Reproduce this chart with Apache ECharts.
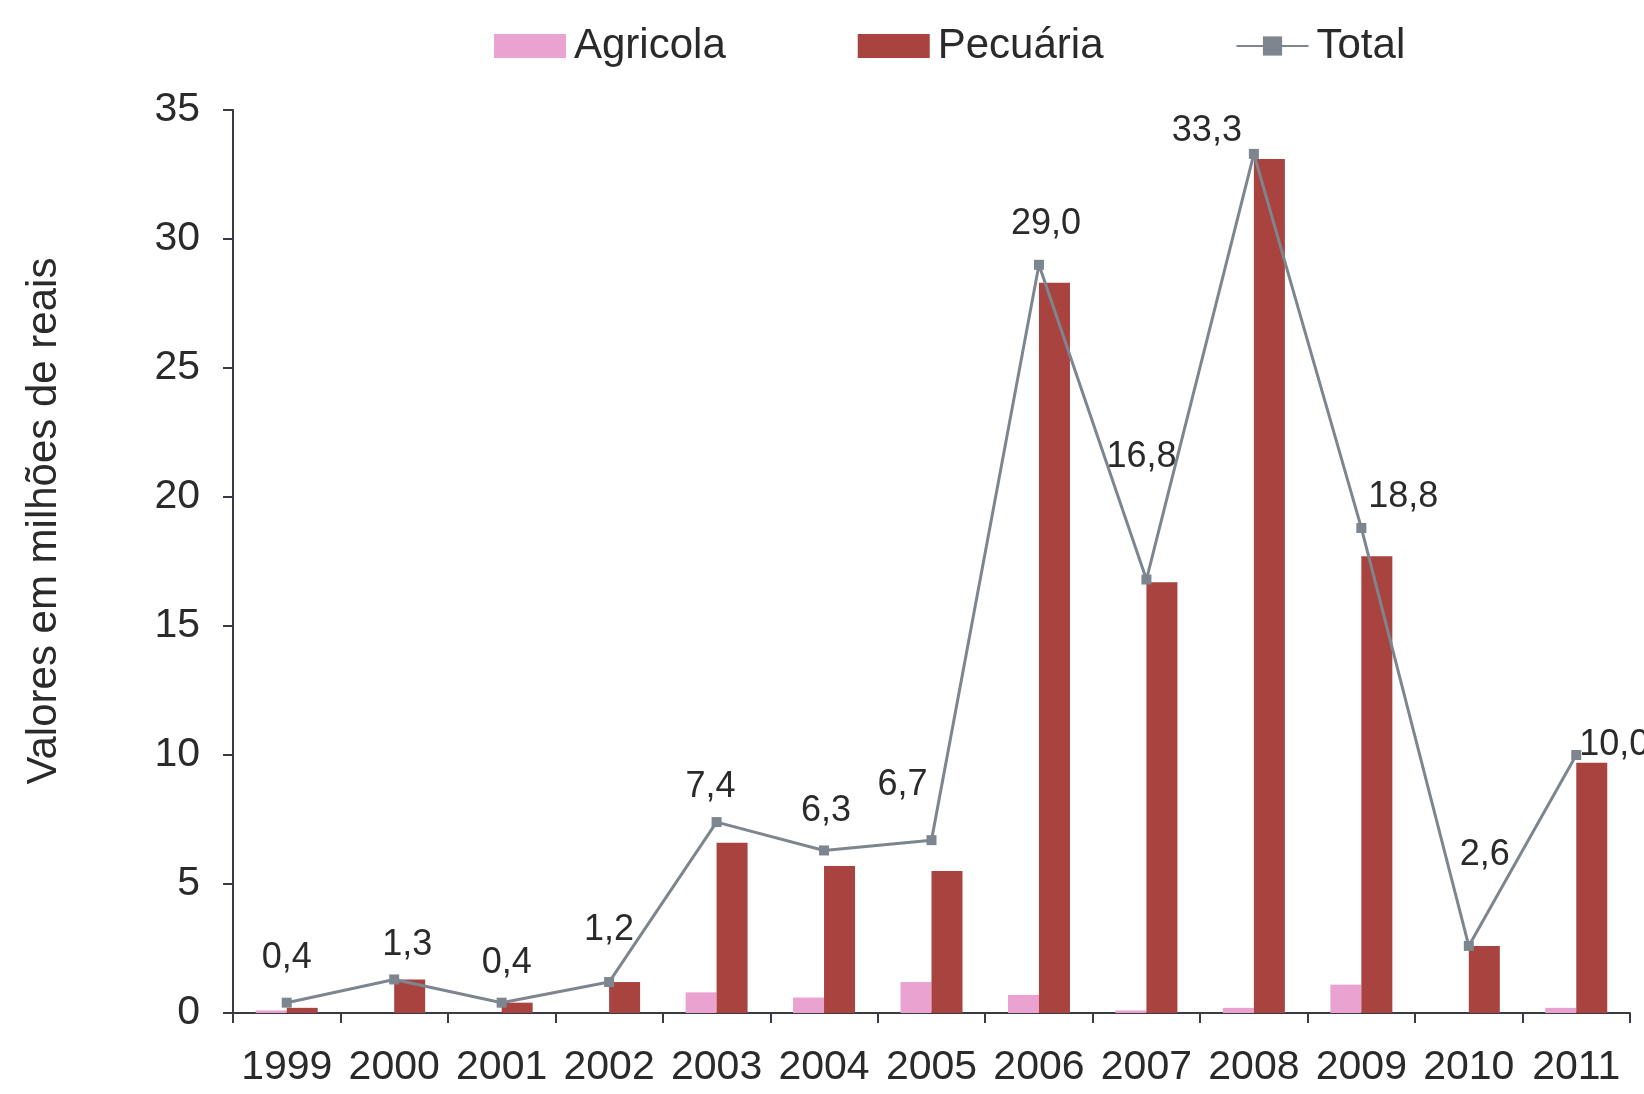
<!DOCTYPE html>
<html>
<head>
<meta charset="utf-8">
<script src="https://cdn.jsdelivr.net/npm/echarts@6/dist/echarts.min.js"></script>
<style>
html,body{margin:0;padding:0;background:#fff;}
#chart{width:1644px;height:1094px;}
</style>
</head>
<body>
<div id="chart"></div>
<script>
const years = ['1999','2000','2001','2002','2003','2004','2005','2006','2007','2008','2009','2010','2011'];
const agricola = [0.1, 0.0, 0.0, 0.0, 0.8, 0.6, 1.2, 0.7, 0.1, 0.2, 1.1, 0.0, 0.2];
const pecuaria = [0.2, 1.3, 0.4, 1.2, 6.6, 5.7, 5.5, 28.3, 16.7, 33.1, 17.7, 2.6, 9.7];
const total = [0.4, 1.3, 0.4, 1.2, 7.4, 6.3, 6.7, 29.0, 16.8, 33.3, 18.8, 2.6, 10.0];
const yTicks = [0, 5, 10, 15, 20, 25, 30, 35];
// label offsets (layout only) for the Total labels
const labelOffsets = [[0,-45],[13,-34],[5,-40],[0,-52],[-6,-35],[2,-39],[-29,-55],[7,-41],[-5,-122],[-47,-23],[42,-31],[16,-91],[38,-10]];

const FONT = '"Liberation Sans", Arial, sans-serif';
const chart = echarts.init(document.getElementById('chart'));
const fmt = v => v.toFixed(1).replace('.', ',');

chart.setOption({
  animation: false,
  backgroundColor: '#ffffff',
  textStyle: { fontFamily: FONT },
  legend: {
    top: 20,
    left: 489,
    itemGap: 132,
    itemWidth: 72,
    itemHeight: 24,
    textStyle: { fontSize: 42, color: '#2a2a2a', fontFamily: FONT, padding: [0,0,0,3] },
    data: [
      { name: 'Agricola', icon: 'rect' },
      { name: 'Pecuária', icon: 'rect' },
      { name: 'Total' }
    ]
  },
  grid: { left: 233, right: 14, top: 110, bottom: 81 },
  xAxis: {
    type: 'category',
    data: years,
    boundaryGap: true,
    axisLine: { lineStyle: { color: '#3a3a44', width: 2 } },
    axisTick: { show: true, length: 10, inside: false, lineStyle: { color: '#3a3a44', width: 2 } },
    axisLabel: { fontSize: 41, color: '#2a2a2a', margin: 34, fontFamily: FONT, interval: 0 }
  },
  yAxis: {
    type: 'value',
    min: 0, max: 35, interval: 5,
    axisLine: { show: true, lineStyle: { color: '#3a3a44', width: 2 } },
    axisTick: { show: true, length: 10, lineStyle: { color: '#3a3a44', width: 2 } },
    splitLine: { show: false },
    axisLabel: { fontSize: 41, color: '#2a2a2a', margin: 33, fontFamily: FONT,
      formatter: v => yTicks.includes(v) ? String(v) : '' }
  },
  graphic: [{
    type: 'text',
    x: 44, y: 521,
    rotation: Math.PI / 2,
    style: {
      text: 'Valores em milhões de reais',
      fontSize: 42, fontFamily: FONT, fill: '#2a2a2a',
      align: 'center', verticalAlign: 'middle'
    }
  }],
  series: [
    {
      name: 'Agricola', type: 'bar', data: agricola,
      barWidth: 31, barGap: '0%',
      itemStyle: { color: '#eaa3d0' }
    },
    {
      name: 'Pecuária', type: 'bar', data: pecuaria,
      barWidth: 31, barGap: '0%',
      itemStyle: { color: '#a8433f' }
    },
    {
      name: 'Total', type: 'line',
      data: total.map((v, i) => ({ value: v, label: { offset: labelOffsets[i] } })),
      symbol: 'rect', symbolSize: 10,
      lineStyle: { color: '#7d868e', width: 3 },
      itemStyle: { color: '#7d868e' },
      z: 5,
      label: {
        show: true, position: 'inside',
        fontSize: 36, color: '#2a2a2a', fontFamily: FONT,
        formatter: p => fmt(p.value)
      }
    }
  ]
});
</script>
</body>
</html>
